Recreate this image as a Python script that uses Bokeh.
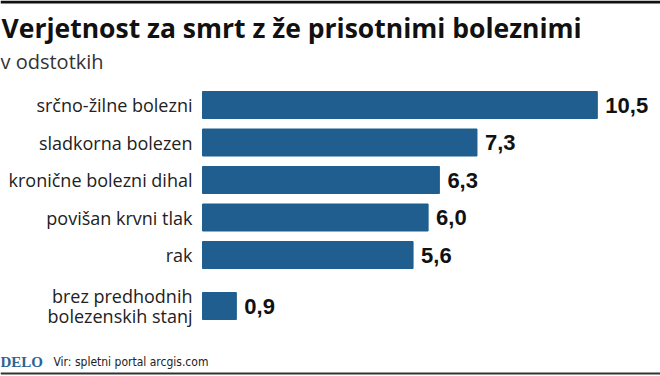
from bokeh.plotting import figure
from bokeh.models import Range1d, Label, Span, ColumnDataSource
from bokeh.core.properties import value
from bokeh.embed import file_html
from bokeh.resources import INLINE

# ---- data ----
categories = ["srčno-žilne bolezni", "sladkorna bolezen", "kronične bolezni dihal",
              "povišan krvni tlak", "rak", "brez predhodnih\nbolezenskih stanj"]
values = [10.5, 7.3, 6.3, 6.0, 5.6, 0.9]
title_text = "Verjetnost za smrt z že prisotnimi boleznimi"
subtitle_text = "v odstotkih"
brand_text = "DELO"
source_text = "Vir: spletni portal arcgis.com"

value_labels = [f"{v:.1f}".replace(".", ",") for v in values]
# row positions: one row per category, extra gap before the two-line last row
GAP = 0.36
rows = [i + (GAP if i == len(categories) - 1 else 0) for i in range(len(categories))]

W, H = 660, 376
BAR = "#1f5e8e"
PX_X = 37.6   # px per percent
PX_Y = 37.5   # px per row
X0 = 202      # bar baseline in px
Y0 = 104.5    # first row centre in px


def py(px):
    """canvas pixel row -> y data coordinate"""
    return (px - Y0) / PX_Y


p = figure(width=W, height=H, output_backend="svg", toolbar_location=None,
           x_axis_location=None, y_axis_location=None,
           x_range=Range1d(-X0 / PX_X, (W - X0) / PX_X),
           y_range=Range1d(py(H), py(0)),
           min_border=0)
p.outline_line_color = None
p.xgrid.visible = False
p.ygrid.visible = False
p.background_fill_color = "white"
p.border_fill_color = "white"

src = ColumnDataSource(dict(y=rows, v=values, lab=value_labels, cat=categories))

p.hbar(y="y", left=0, right="v", height=0.72, source=src,
       fill_color=BAR, line_color=BAR)

p.text(x="v", y="y", text="lab", source=src, x_offset=8,
       text_align="left", text_baseline="middle",
       text_font=value("Liberation Sans"),
       text_font_style="bold", text_font_size="22px", text_color="#111111")

p.text(x=0, y="y", text="cat", source=src, x_offset=-10,
       text_align="right", text_baseline="middle", text_line_height=0.85,
       text_font=value("Open Sans"), text_font_size="18px", text_color="#222222")

# titles and footer (canvas px, measured from top)
p.add_layout(Label(x=1, y=27, x_units="canvas", y_units="canvas", text=title_text,
                   text_font="Open Sans", text_font_style="bold", text_font_size="26.5px",
                   text_color="#111111", text_baseline="alphabetic"))
p.add_layout(Label(x=0, y=61, x_units="canvas", y_units="canvas", text=subtitle_text,
                   text_font="Open Sans", text_font_size="20px",
                   text_color="#333333", text_baseline="alphabetic"))
p.add_layout(Label(x=0, y=361, x_units="canvas", y_units="canvas", text=brand_text,
                   text_font="Liberation Serif", text_font_style="bold", text_font_size="15px",
                   text_color="#2d6491", text_baseline="alphabetic"))
p.add_layout(Label(x=53, y=361, x_units="canvas", y_units="canvas", text=source_text,
                   text_font="Liberation Sans Narrow, DejaVu Sans Condensed, Roboto, sans-serif",
                   text_font_size="12px",
                   text_color="#222222", text_baseline="alphabetic"))

p.add_layout(Span(location=py(1.5), dimension="width", line_color="#111111", line_width=3))
p.add_layout(Span(location=py(373), dimension="width", line_color="#333333", line_width=2))

open("out.html", "w").write(file_html(p, INLINE))
